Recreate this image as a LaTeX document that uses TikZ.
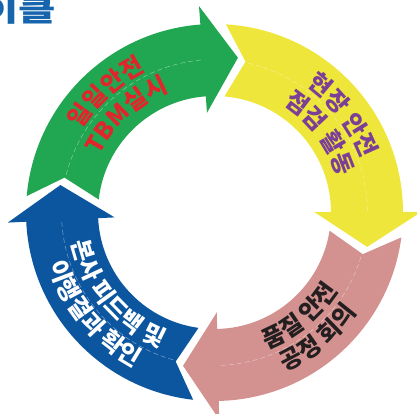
\documentclass[tikz,border=0pt]{standalone}
\usepackage{fontspec}
\usepackage{graphicx}
\usetikzlibrary{decorations.text}
\newfontfamily\kr{Noto Sans CJK KR}
\definecolor{grnarrow}{HTML}{21A651}
\definecolor{ylwarrow}{HTML}{EEE63A}
\definecolor{pnkarrow}{HTML}{D3918F}
\definecolor{bluarrow}{HTML}{0C56A0}
\definecolor{titleblue}{HTML}{1766AD}
\definecolor{txtred}{HTML}{E4242B}
\definecolor{txtpurple}{HTML}{7B3F98}
\definecolor{txtdark}{HTML}{231F20}
\newcommand{\arcfont}{\kr\bfseries\fontsize{24}{24}\selectfont}

\begin{document}
\begin{tikzpicture}[x=1pt, y=1pt,
  midline/.style={white, opacity=0.45, line width=0.5pt, dash pattern=on 5pt off 3pt},
  arclabel/.style={decorate, decoration={text along path, text align=center, text color=#1}}
]
\useasboundingbox (-214.5,-201.5) rectangle (202.5,212.5);
% four arrows: tail notch follows previous head, then head base angle
\foreach \P/\B/\col in {182.8/94.3/grnarrow, 94.3/0.2/ylwarrow, 0.2/-88.7/pnkarrow, -88.7/-177.2/bluarrow} {
  \fill[\col] (\P-7.8:188.5) arc[start angle=\P-7.8, end angle=\B, radius=188.5]
    -- (\B:207) -- (\B-12.9:156.5) -- (\B:100) -- (\B:116.5)
    arc[start angle=\B, end angle=\P-9.2, radius=116.5] -- (\P-15.9:154) -- cycle;
  \draw[midline] (\P-17:153) arc[start angle=\P-17, end angle=\B, radius=153];
}
% labels along the arrows
\path[arclabel=txtred, decoration={text={|\arcfont|일일안전}}]
  (172:157) arc[start angle=172, end angle=92, radius=157];
\path[arclabel=txtred, decoration={text={|\arcfont|TBM실시}}]
  (172:128.5) arc[start angle=172, end angle=92, radius=128.5];
\path[arclabel=txtpurple, decoration={text={|\arcfont|현장 안전}}]
  (77:157) arc[start angle=77, end angle=-3, radius=157];
\path[arclabel=txtpurple, decoration={text={|\arcfont|점검 활동}}]
  (77:128.5) arc[start angle=77, end angle=-3, radius=128.5];
\path[arclabel=txtdark, decoration={text={|\arcfont|품질 안전}}]
  (-90.5:146) arc[start angle=-90.5, end angle=-10.5, radius=146];
\path[arclabel=txtdark, decoration={text={|\arcfont|공정 회의}}]
  (-90.5:174) arc[start angle=-90.5, end angle=-10.5, radius=174];
\path[arclabel=white, decoration={text={|\arcfont|본사 피드백 및}}]
  (180:146) arc[start angle=180, end angle=260, radius=146];
\path[arclabel=white, decoration={text={|\arcfont|이행결과 확인}}]
  (180:174) arc[start angle=180, end angle=260, radius=174];
% cropped title
\node[anchor=base east, inner sep=0pt, text=titleblue, font=\kr\bfseries\fontsize{29}{29}\selectfont] (title) at (-158,190.5) {\scalebox{1.4}[1]{사이클}};
\end{tikzpicture}
\end{document}
